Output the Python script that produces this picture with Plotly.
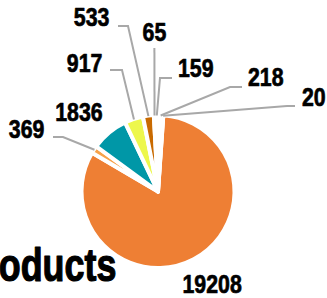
import math
import json
import plotly.graph_objects as go

# ---- data ----
labels = ["19208", "369", "1836", "917", "533", "65", "159", "218", "20"]
values = [19208, 369, 1836, 917, 533, 65, 159, 218, 20]
colors = ["#EE7F34", "#F7A24A", "#0097A7", "#EDF74C", "#C96A00",
          "#FFFFFF", "#FFFFFF", "#FFFFFF", "#FFFFFF"]
title_text = "Products"

# ---- layout constants (pixels) ----
W, H = 327, 298
CX, CY, R = 158, 191.5, 76.5
ROT = 4
ANCHOR_R = 76
FONT = "Liberation Sans, Arial, sans-serif"
FS = 26
TITLE_FS = 46
LABEL_SQUEEZE = 0.82   # condensed look
TITLE_SQUEEZE = 0.78
LINE_COLOR = "#A8A8A8"

# per-label connector layout: (elbow_x, elbow_y, end_x, side, text_x, text_center_y)
label_layout = {
    "19208": (None, None, None, "center", 212, 284),
    "369": (63, 137, 53, "right", 46, 129),
    "1836": (None, None, None, "center", 78.5, 112.5),
    "917": (122, 70, 110, "right", 104, 62.5),
    "533": (128, 26, 118, "right", 111, 17),
    "65": (154.4, 48, 154.4, "center", 154.5, 31.5),
    "159": (160, 78, 172, "left", 176, 68),
    "218": (230, 87, 242, "left", 246, 77.5),
    "20": (287, 106, 295, "left", 300, 96.5),
}


def px(x):
    return x / W


def py(y):
    return 1 - y / H


fig = go.Figure(go.Pie(
    labels=labels,
    values=values,
    sort=False,
    direction="clockwise",
    rotation=ROT,
    marker=dict(colors=colors, line=dict(color="white", width=4)),
    textinfo="none",
    hoverinfo="label+value",
    showlegend=False,
    domain=dict(x=[px(CX - R), px(CX + R)], y=[py(CY + R), py(CY - R)]),
))

total = sum(values)
cum = 0
shapes = []
annotations = []
squeeze = []
for lab, v in zip(labels, values):
    mid = ROT + (cum + v / 2) / total * 360
    cum += v
    ax = CX + ANCHOR_R * math.sin(math.radians(mid))
    ay = CY - ANCHOR_R * math.cos(math.radians(mid))
    ex, ey, endx, side, tx, tcy = label_layout[lab]
    if ex is not None:
        path = f"M {px(ax)} {py(ay)} L {px(ex)} {py(ey)} L {px(endx)} {py(ey)}"
        shapes.append(dict(type="path", path=path, xref="paper", yref="paper",
                           line=dict(color=LINE_COLOR, width=2)))
    annotations.append(dict(
        text=f"<b>{lab}</b>", x=px(tx), y=py(tcy),
        xref="paper", yref="paper",
        xanchor=side, yanchor="middle", showarrow=False,
        font=dict(family=FONT, size=FS, color="#000000"),
    ))
    squeeze.append(LABEL_SQUEEZE)

annotations.append(dict(
    text=f"<b>{title_text}</b>", x=px(118), y=py(265),
    xref="paper", yref="paper",
    xanchor="right", yanchor="middle", showarrow=False,
    font=dict(family=FONT, size=TITLE_FS, color="#000000"),
))
squeeze.append(TITLE_SQUEEZE)

fig.update_layout(
    width=W, height=H,
    margin=dict(l=0, r=0, t=0, b=0),
    paper_bgcolor="white", plot_bgcolor="white",
    shapes=shapes, annotations=annotations,
)

post = """
document.body.style.margin = '0';
document.body.style.overflow = 'hidden';
var gd = document.getElementById('{plot_id}');
var sq = %s;
gd.querySelectorAll('g.annotation').forEach(function(g){
  var i = +g.getAttribute('data-index');
  var ann = gd.layout.annotations[i];
  var t = g.querySelector('text.annotation-text');
  if(!t || !ann) return;
  var b = t.getBBox();
  var p = ann.xanchor === 'right' ? b.x + b.width : (ann.xanchor === 'left' ? b.x : b.x + b.width / 2);
  var s = sq[i];
  t.setAttribute('transform', 'translate(' + p + ',0) scale(' + s + ',1) translate(' + (-p) + ',0)');
  t.style.stroke = '#000000';
  t.style.strokeWidth = (s < 0.8 ? 1.2 : 0.7) + 'px';
  t.style.strokeLinejoin = 'round';
});
""" % json.dumps(squeeze)

fig.write_html("out.html", post_script=post,
               config={"displayModeBar": False})
